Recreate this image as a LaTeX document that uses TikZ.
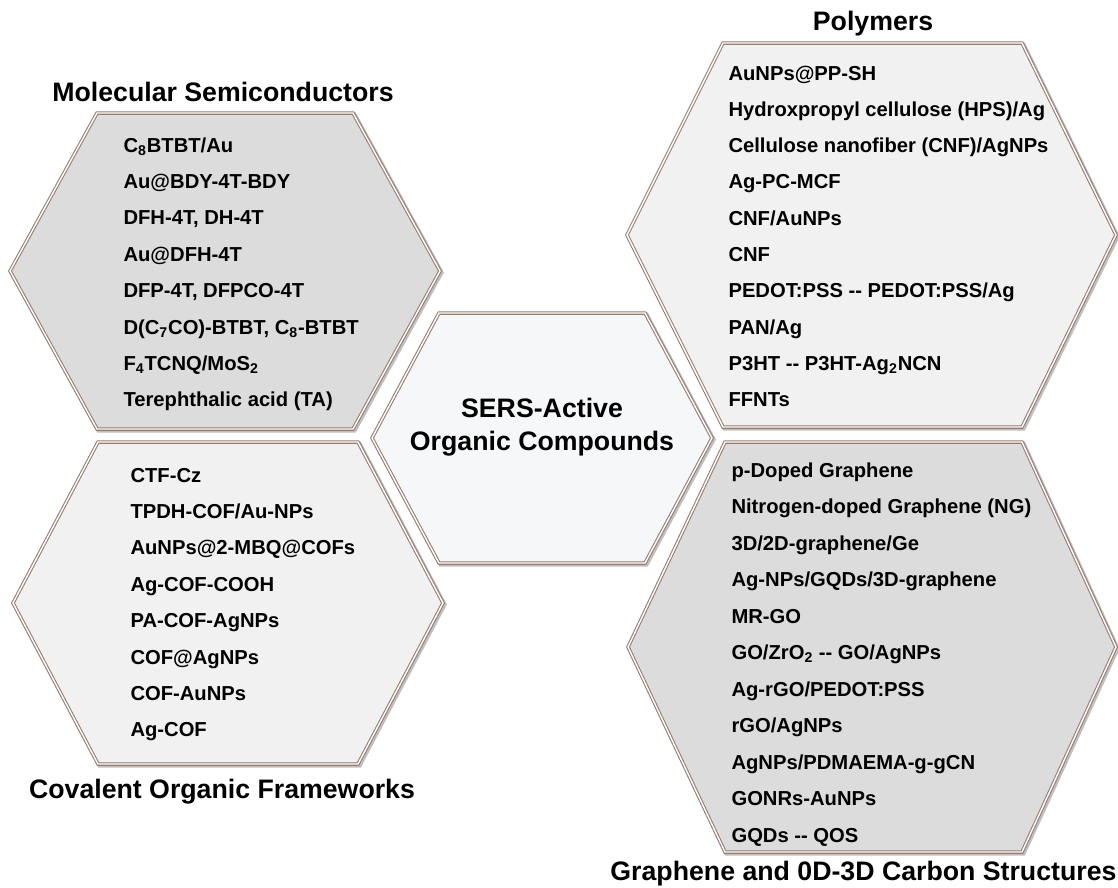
\documentclass[tikz,border=0pt]{standalone}
\usepackage{fontspec}
\setmainfont{Liberation Sans}
\definecolor{rim}{RGB}{150,124,110}
\definecolor{darkhex}{RGB}{220,220,220}
\definecolor{lighthex}{RGB}{241,241,241}
\definecolor{corehex}{RGB}{245,247,249}
\begin{document}
\begin{tikzpicture}[x=0.02cm,y=-0.02cm,line width=0.6pt,
	hexa/.style={draw=rim,double=white,double distance=0.8pt,line join=miter},
	hexshadow/.style={draw=black!25,line width=2.4pt,line join=miter},
	listitem/.style={anchor=base west,inner sep=0pt,font=\fontsize{11.5}{13}\selectfont\bfseries},
	head/.style={anchor=base,inner sep=0pt,font=\fontsize{15.2}{18}\selectfont\bfseries}]
				\useasboundingbox (0,0) rectangle (1118,887);
				\draw[hexshadow,shift={(1.5,1.5)}] (10,271) -- (97,113) -- (353,113) -- (440,271) -- (353,429) -- (97,429) -- cycle;
				\draw[hexa,fill=darkhex] (10,271) -- (97,113) -- (353,113) -- (440,271) -- (353,429) -- (97,429) -- cycle;
				\draw[hexshadow,shift={(1.5,1.5)}] (13,603) -- (98,442) -- (358,442) -- (443,603) -- (358,764) -- (98,764) -- cycle;
				\draw[hexa,fill=lighthex] (13,603) -- (98,442) -- (358,442) -- (443,603) -- (358,764) -- (98,764) -- cycle;
				\draw[hexshadow,shift={(1.5,1.5)}] (372,438) -- (439,313) -- (645,313) -- (712,438) -- (645,563) -- (439,563) -- cycle;
				\draw[hexa,fill=corehex] (372,438) -- (439,313) -- (645,313) -- (712,438) -- (645,563) -- (439,563) -- cycle;
				\draw[hexshadow,shift={(1.5,1.5)}] (627,235) -- (723,43) -- (1022,43) -- (1116,235) -- (1022,427) -- (723,427) -- cycle;
				\draw[hexa,fill=lighthex] (627,235) -- (723,43) -- (1022,43) -- (1116,235) -- (1022,427) -- (723,427) -- cycle;
				\draw[hexshadow,shift={(1.5,1.5)}] (628,647) -- (725,442) -- (1022,442) -- (1116,647) -- (1022,852) -- (725,852) -- cycle;
				\draw[hexa,fill=darkhex] (628,647) -- (725,442) -- (1022,442) -- (1116,647) -- (1022,852) -- (725,852) -- cycle;
				\node[head] (sers1) at (542,417) {SERS-Active};
				\node[head] (sers2) at (542,450) {Organic Compounds};
				\node[head] (molhead) at (223,101) {Molecular Semiconductors};
				\node[head] (cofhead) at (222,798) {Covalent Organic Frameworks};
				\node[head] (polhead) at (873,30) {Polymers};
				\node[head,anchor=base east] (grahead) at (1117,880) {Graphene and 0D-3D Carbon Structures};
				\foreach \txt [count=\i] in {C\textsubscript{8}BTBT/Au, Au@BDY-4T-BDY, {DFH-4T, DH-4T}, Au@DFH-4T, {DFP-4T, DFPCO-4T}, {D(C\textsubscript{7}CO)-BTBT, C\textsubscript{8}-BTBT}, F\textsubscript{4}TCNQ/MoS\textsubscript{2}, Terephthalic acid (TA)}{
					\node[listitem] (mol\i) at (123,{152+36.4*(\i-1)}) {\txt};
				}
				\foreach \txt [count=\i] in {CTF-Cz, TPDH-COF/Au-NPs, AuNPs@2-MBQ@COFs, Ag-COF-COOH, PA-COF-AgNPs, COF@AgNPs, COF-AuNPs, Ag-COF}{
					\node[listitem] (cof\i) at (130,{482+36.4*(\i-1)}) {\txt};
				}
				\foreach \txt [count=\i] in {AuNPs@PP-SH, Hydroxpropyl cellulose (HPS)/Ag, Cellulose nanofiber (CNF)/AgNPs, Ag-PC-MCF, CNF/AuNPs, CNF, PEDOT:PSS -{}- PEDOT:PSS/Ag, PAN/Ag, P3HT -{}- P3HT-Ag\textsubscript{2}NCN, FFNTs}{
					\node[listitem] (pol\i) at (728,{80+36.3*(\i-1)}) {\txt};
				}
				\foreach \txt [count=\i] in {p-Doped Graphene, Nitrogen-doped Graphene (NG), 3D/2D-graphene/Ge, Ag-NPs/GQDs/3D-graphene, MR-GO, GO/ZrO\textsubscript{2} -{}- GO/AgNPs, Ag-rGO/PEDOT:PSS, rGO/AgNPs, AgNPs/PDMAEMA-g-gCN, GONRs-AuNPs, GQDs -{}- QOS}{
					\node[listitem] (gra\i) at (731,{477+36.5*(\i-1)}) {\txt};
				}
\end{tikzpicture}
\end{document}
